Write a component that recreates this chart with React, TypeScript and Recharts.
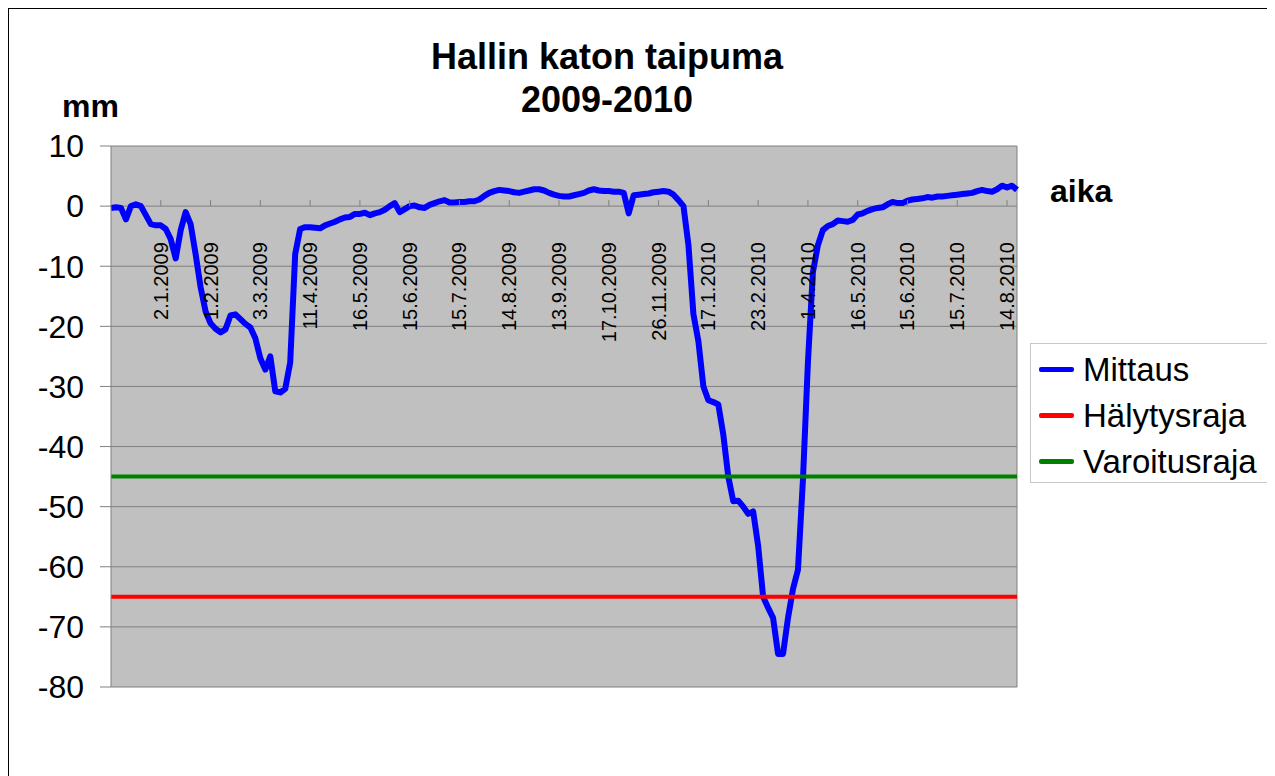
import React from 'react';
import {
  LineChart,
  Line,
  XAxis,
  YAxis,
  CartesianGrid,
  Legend,
  ReferenceDot,
  ReferenceLine
} from 'recharts';

// mittaukset, luettu kuvasta (mm)
const mittaus = [
  -0.3, -0.2, -0.3, -2.2, 0.0, 0.3, 0.0, -1.5, -3.0, -3.2,
  -3.2, -3.8, -5.5, -8.7, -4.0, -1.0, -3.0, -8.0, -13.5, -17.5,
  -19.5, -20.4, -21.0, -20.5, -18.2, -18.0, -18.8, -19.6, -20.2, -22.0,
  -25.3, -27.2, -25.0, -30.8, -31.0, -30.4, -26.0, -8.0, -3.8, -3.5,
  -3.5, -3.6, -3.7, -3.2, -2.9, -2.6, -2.2, -1.9, -1.8, -1.3,
  -1.3, -1.1, -1.5, -1.2, -1.0, -0.6, 0.0, 0.5, -1.0, -0.5,
  0.0, 0.1, -0.2, -0.3, 0.2, 0.5, 0.8, 1.0, 0.6, 0.6,
  0.7, 0.7, 0.8, 0.8, 1.1, 1.7, 2.2, 2.5, 2.7, 2.6,
  2.5, 2.3, 2.2, 2.4, 2.6, 2.8, 2.8, 2.6, 2.2, 1.9,
  1.7, 1.6, 1.6, 1.8, 2.0, 2.2, 2.6, 2.8, 2.6, 2.5,
  2.5, 2.4, 2.4, 2.2, -1.2, 1.8, 1.9, 2.0, 2.1, 2.3,
  2.4, 2.5, 2.4, 1.9, 1.0, 0.0, -6.5, -18.0, -22.5, -30.0,
  -32.3, -32.6, -33.0, -38.0, -45.0, -49.1, -49.0, -50.0, -51.2, -50.8,
  -56.5, -65.0, -66.8, -68.5, -74.5, -74.5, -68.5, -63.7, -60.5, -45.5,
  -26.0, -11.0, -6.5, -4.0, -3.3, -3.0, -2.4, -2.5, -2.6, -2.3,
  -1.4, -1.2, -0.8, -0.5, -0.3, -0.2, 0.3, 0.7, 0.5, 0.5,
  0.9, 1.1, 1.2, 1.3, 1.5, 1.4, 1.6, 1.6, 1.7, 1.8,
  1.9, 2.0, 2.1, 2.2, 2.5, 2.7, 2.5, 2.4, 2.8, 3.4,
  3.1, 3.4, 2.7
];

const halytysraja = -65;
const varoitusraja = -45;

// joka 10. mittauksen päivämäärä
const pvmLabels = [
  '2.1.2009', '1.2.2009', '3.3.2009', '11.4.2009', '16.5.2009', '15.6.2009',
  '15.7.2009', '14.8.2009', '13.9.2009', '17.10.2009', '26.11.2009', '17.1.2010',
  '23.2.2010', '1.4.2010', '16.5.2010', '15.6.2010', '15.7.2010', '14.8.2010'
];
const labelStep = 10;

const yTicks = [10, 0, -10, -20, -30, -40, -50, -60, -70, -80];

const seriesOrder = ['Mittaus', 'Hälytysraja', 'Varoitusraja'];

const FONT = '"Liberation Sans", Arial, sans-serif';
const GRID = '#808080';

const data = mittaus.map((v, i) => ({
  n: i,
  mittaus: v,
  halytysraja,
  varoitusraja
}));

const DateTick = ({ cx, cy, text }: { cx: number; cy: number; text: string }) => {
  const ty = cy + 36;
  return (
    <g>
      <line x1={cx} x2={cx} y1={cy - 6} y2={cy} stroke={GRID} strokeWidth={1} />
      <text
        x={cx}
        y={ty}
        transform={`rotate(-90 ${cx} ${ty})`}
        textAnchor="end"
        dominantBaseline="central"
        fontFamily={FONT}
        fontSize={20}
        fill="#000"
      >
        {text}
      </text>
    </g>
  );
};

const LegendBox = ({ payload }: any) => {
  const items = [...(payload || [])].sort(
    (a: any, b: any) => seriesOrder.indexOf(a.value) - seriesOrder.indexOf(b.value)
  );
  return (
    <div
      style={{
        width: '100%',
        height: '100%',
        boxSizing: 'border-box',
        border: '1px solid #c8c8c8',
        background: '#fff',
        paddingTop: 2,
        fontFamily: FONT
      }}
    >
      {items.map((p: any) => (
        <div
          key={p.value}
          style={{ display: 'flex', alignItems: 'center', height: 46 }}
        >
          <div
            style={{
              width: 35,
              height: 5,
              marginLeft: 8,
              marginRight: 9,
              background: p.color,
              borderRadius: 2
            }}
          />
          <span style={{ fontSize: 33, color: '#000', lineHeight: 1 }}>{p.value}</span>
        </div>
      ))}
    </div>
  );
};

export default function App() {
  return (
    <div
      style={{
        position: 'relative',
        width: 1266,
        height: 767,
        marginLeft: -2,
        marginTop: -2,
        borderTop: '3px solid #000',
        borderLeft: '3px solid #000',
        background: '#fff'
      }}
    >
      <LineChart
        width={1262}
        height={762}
        data={data}
        margin={{ top: 137, right: 14, bottom: 84, left: 0 }}
      >
        <CartesianGrid
          vertical={false}
          stroke={GRID}
          fill="#c0c0c0"
          fillOpacity={1}
        />
        <XAxis dataKey="n" type="number" domain={[0, mittaus.length - 1]} hide />
        <YAxis
          domain={[-80, 10]}
          ticks={yTicks}
          interval={0}
          width={102}
          tickSize={11}
          tickMargin={16}
          axisLine={{ stroke: GRID }}
          tickLine={{ stroke: GRID }}
          tick={{ fill: '#000', fontSize: 32, fontFamily: FONT }}
        />
        <ReferenceLine x={mittaus.length - 1} stroke={GRID} />
        {pvmLabels.map((d, k) => (
          <ReferenceDot
            key={d}
            x={(k + 1) * labelStep}
            y={0}
            r={0}
            shape={(p: any) => <DateTick cx={p.cx} cy={p.cy} text={d} />}
          />
        ))}
        <Line
          name="Mittaus"
          dataKey="mittaus"
          stroke="#0000ff"
          strokeWidth={6}
          dot={false}
          strokeLinejoin="round"
          isAnimationActive={false}
        />
        <Line
          name="Hälytysraja"
          dataKey="halytysraja"
          stroke="#ff0000"
          strokeWidth={4}
          dot={false}
          isAnimationActive={false}
        />
        <Line
          name="Varoitusraja"
          dataKey="varoitusraja"
          stroke="#008000"
          strokeWidth={4}
          dot={false}
          isAnimationActive={false}
        />
        <Legend
          layout="vertical"
          align="right"
          verticalAlign="middle"
          content={<LegendBox />}
          wrapperStyle={{ width: 240, height: 140, left: 1021, top: 334 }}
        />
      </LineChart>
      <svg
        width={1262}
        height={762}
        style={{ position: 'absolute', left: 0, top: 0, pointerEvents: 'none' }}
      >
        <g fontFamily={FONT} fontWeight="bold" fill="#000">
          <text x={598} y={60} fontSize={36} textAnchor="middle">
            Hallin katon taipuma
          </text>
          <text x={598} y={103} fontSize={36} textAnchor="middle">
            2009-2010
          </text>
          <text x={53} y={108} fontSize={32}>
            mm
          </text>
          <text x={1041} y={193} fontSize={32}>
            aika
          </text>
        </g>
      </svg>
    </div>
  );
}
